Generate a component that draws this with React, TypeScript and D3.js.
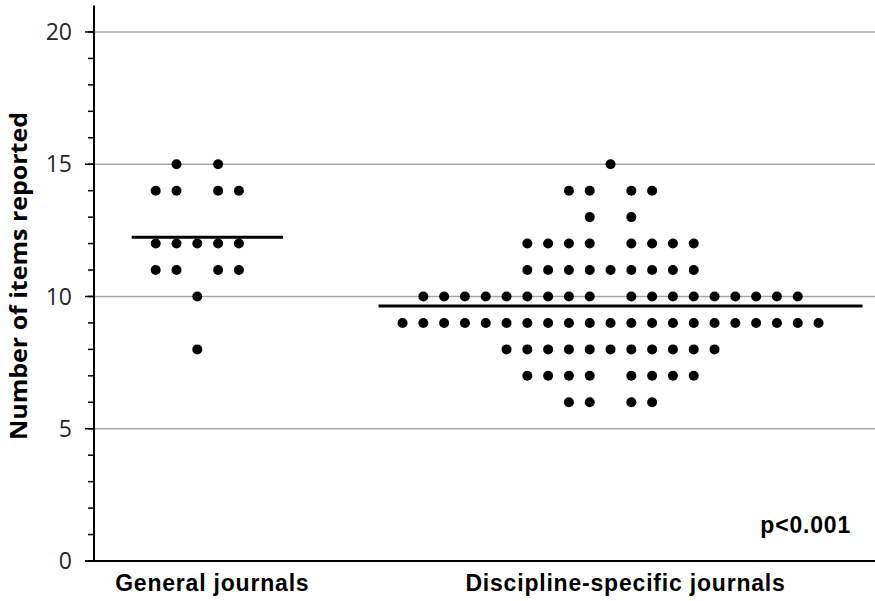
import React from "react";
import * as d3 from "d3";

// Score levels (number of items reported) and how many journals sit at each level
const scoreLevels = [15, 14, 13, 12, 11, 10, 9, 8, 7, 6];
const generalCounts = [2, 4, 0, 5, 4, 1, 0, 1, 0, 0];
const disciplineCounts = [1, 4, 2, 8, 9, 18, 21, 11, 8, 4];

const categories = ["General journals", "Discipline-specific journals"];
const categoryPositions = [1, 2];
const yTicks = [0, 5, 10, 15, 20];
const pValueLabel = "p<0.001";
const yAxisTitle = "Number of items reported";

const W = 875;
const H = 601;
const axisX = 94;
const DOT_STEP = 20.8;
const DOT_R = 5;

const y = d3.scaleLinear().domain([0, 21]).range([561, 5.5]);
const x = d3.scaleLinear().domain([0.75, 2.64]).range([axisX, W]);

type Dot = { cx: number; cy: number };

function layoutDots(counts: number[], center: number): Dot[] {
  const dots: Dot[] = [];
  scoreLevels.forEach((score, i) => {
    const n = counts[i];
    let offsets: number[] = [];
    if (n % 2 === 1) {
      offsets = d3.range(n).map((k) => k - (n - 1) / 2);
    } else {
      const half = n / 2;
      offsets = [...d3.range(-half, 0), ...d3.range(1, half + 1)];
    }
    offsets.forEach((o) => dots.push({ cx: center + o * DOT_STEP, cy: y(score) }));
  });
  return dots;
}

function meanOf(counts: number[]) {
  const total = d3.sum(counts);
  return d3.sum(counts.map((c, i) => c * scoreLevels[i])) / total;
}

const groups = [generalCounts, disciplineCounts].map((counts, gi) => {
  const cx = x(categoryPositions[gi]);
  const dots = layoutDots(counts, cx);
  const minX = d3.min(dots, (d) => d.cx) as number;
  const maxX = d3.max(dots, (d) => d.cx) as number;
  return { name: categories[gi], cx, dots, mean: meanOf(counts), x1: minX - 24, x2: maxX + 44 };
});

const minorTicks = d3.range(0, 21);
const labelFont = "'Liberation Sans', Arial, sans-serif";

export default function App() {
  return (
    <svg
      width={W}
      height={H}
      style={{ position: "absolute", left: 0, top: 0, background: "#fff" }}
    >
      {/* gridlines */}
      {yTicks.filter((t) => t > 0).map((t) => (
        <line key={"g" + t} x1={axisX} x2={W} y1={y(t)} y2={y(t)} stroke="#a6a6a6" strokeWidth={1.5} />
      ))}
      {/* minor ticks */}
      {minorTicks.map((t) => (
        <line key={"m" + t} x1={88} x2={axisX} y1={y(t)} y2={y(t)} stroke="#000" strokeWidth={1.5} />
      ))}
      {/* major ticks and labels */}
      {yTicks.map((t) => (
        <g key={"t" + t}>
          <line x1={85} x2={axisX} y1={y(t)} y2={y(t)} stroke="#000" strokeWidth={1.5} />
          <text
            x={72}
            y={y(t)}
            dy="0.36em"
            textAnchor="end"
            fontFamily="'Open Sans', sans-serif"
            fontSize={23}
            fill="#262626"
          >
            {t}
          </text>
        </g>
      ))}
      {/* axes */}
      <line x1={axisX} x2={axisX} y1={y(21)} y2={y(0)} stroke="#000" strokeWidth={2} />
      <line x1={85} x2={W} y1={y(0)} y2={y(0)} stroke="#000" strokeWidth={2} />

      {/* dots and means */}
      {groups.map((g) => (
        <g key={g.name}>
          {g.dots.map((d, i) => (
            <circle key={i} cx={d.cx} cy={d.cy} r={DOT_R} fill="#000" />
          ))}
          <line x1={g.x1} x2={g.x2} y1={y(g.mean)} y2={y(g.mean)} stroke="#000" strokeWidth={3} />
          <text
            x={g.cx + 15}
            y={591}
            textAnchor="middle"
            fontFamily={labelFont}
            fontWeight="bold"
            fontSize={23}
            letterSpacing={0.8}
            fill="#000"
          >
            {g.name}
          </text>
        </g>
      ))}

      <text
        x={851}
        y={533}
        textAnchor="end"
        fontFamily={labelFont}
        fontWeight="bold"
        fontSize={23}
        letterSpacing={0.8}
        fill="#000"
      >
        {pValueLabel}
      </text>

      <text
        transform={`translate(27, 276) rotate(-90)`}
        textAnchor="middle"
        fontFamily="'Open Sans', sans-serif"
        fontWeight="bold"
        fontSize={23}
        textLength={328}
        lengthAdjust="spacingAndGlyphs"
        fill="#000"
      >
        {yAxisTitle}
      </text>
    </svg>
  );
}
